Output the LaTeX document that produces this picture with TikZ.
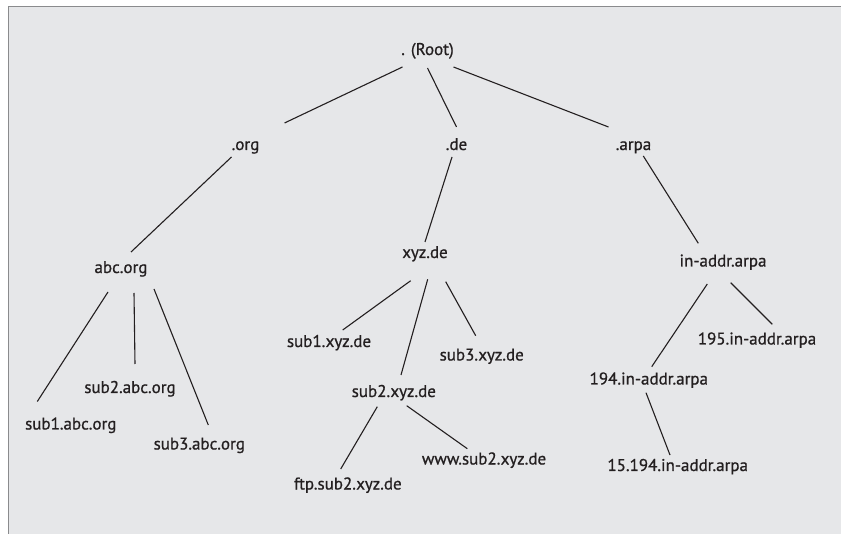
\documentclass[tikz,border=0pt]{standalone}
\usepackage{fontspec}
\setmainfont{PT Sans}[FakeBold=0.8]
\usepackage{tikz}
\definecolor{panelgray}{HTML}{E6E7E9}
\definecolor{framegray}{HTML}{8A8B8D}
\definecolor{inkblack}{HTML}{231F20}
\tikzset{
	dnsname/.style={anchor=base, inner sep=0pt, text=inkblack, font=\fontsize{17}{20}\selectfont},
	branch/.style={draw=inkblack, line width=1.1pt},
}

\begin{document}
\begin{tikzpicture}[x=1pt, y=-1pt]
			\useasboundingbox (0,0) rectangle (841,534);
			\fill[panelgray] (8,7) rectangle (850,545);
			\draw[framegray, line width=1pt] (8,545) -- (8,7) -- (850,7);
			% top levels
			\node[dnsname] (root) at (427.5,55) {. (Root)};
			\node[dnsname] (org) at (245.5,150) {.org};
			\node[dnsname] (de) at (456.5,150) {.de};
			\node[dnsname] (arpa) at (633.5,150) {.arpa};
			% .org
			\node[dnsname] (abc) at (121,273) {abc.org};
			\node[dnsname] (sub1abc) at (70.8,429.5) {sub1.abc.org};
			\node[dnsname] (sub2abc) at (130,393) {sub2.abc.org};
			\node[dnsname] (sub3abc) at (199.3,449.5) {sub3.abc.org};
			% .de
			\node[dnsname] (xyz) at (425,258) {xyz.de};
			\node[dnsname] (sub1xyz) at (329,347) {sub1.xyz.de};
			\node[dnsname] (sub2xyz) at (393.8,397) {sub2.xyz.de};
			\node[dnsname] (sub3xyz) at (481.7,360.5) {sub3.xyz.de};
			\node[dnsname] (ftp) at (347.8,489.5) {ftp.sub2.xyz.de};
			\node[dnsname] (www) at (484,464.5) {www.sub2.xyz.de};
			% .arpa
			\node[dnsname] (inaddr) at (723,266.5) {in-addr.arpa};
			\node[dnsname] (rev194) at (648.8,384.5) {194.in-addr.arpa};
			\node[dnsname] (rev195) at (757,344.5) {195.in-addr.arpa};
			\node[dnsname] (rev15) at (677.7,471) {15.194.in-addr.arpa};
			% branches
			\draw[branch] ([shift={(-25,12)}]root.base) -- ([shift={(39,-27)}]org.base);
			\draw[branch] ([shift={(0,13)}]root.base) -- ([shift={(0,-23)}]de.base);
			\draw[branch] ([shift={(26,12)}]root.base) -- ([shift={(-25,-23)}]arpa.base);
			\draw[branch] ([shift={(-14,7)}]org.base) -- ([shift={(10,-21)}]abc.base);
			\draw[branch] ([shift={(-13,19)}]abc.base) -- ([shift={(-33.5,-28)}]sub1abc.base);
			\draw[branch] ([shift={(13,20)}]abc.base) -- ([shift={(5,-29)}]sub2abc.base);
			\draw[branch] ([shift={(33,16)}]abc.base) -- ([shift={(9,-24.5)}]sub3abc.base);
			\draw[branch] ([shift={(-4.5,7)}]de.base) -- ([shift={(0,-16)}]xyz.base);
			\draw[branch] ([shift={(-14.3,22.7)}]xyz.base) -- ([shift={(13.7,-17)}]sub1xyz.base);
			\draw[branch] ([shift={(2.7,21.3)}]xyz.base) -- ([shift={(7.2,-22)}]sub2xyz.base);
			\draw[branch] ([shift={(20.7,23.7)}]xyz.base) -- ([shift={(-6,-24.8)}]sub3xyz.base);
			\draw[branch] ([shift={(-16.5,9.7)}]sub2xyz.base) -- ([shift={(-7.1,-20.5)}]ftp.base);
			\draw[branch] ([shift={(12.9,8.7)}]sub2xyz.base) -- ([shift={(-16.7,-15.8)}]www.base);
			\draw[branch] ([shift={(9.8,6)}]arpa.base) -- ([shift={(-24.7,-23.2)}]inaddr.base);
			\draw[branch] ([shift={(-15.7,17.5)}]inaddr.base) -- ([shift={(2.9,-17.8)}]rev194.base);
			\draw[branch] ([shift={(7.7,16.2)}]inaddr.base) -- ([shift={(15.3,-20.2)}]rev195.base);
			\draw[branch] ([shift={(-2.8,8.2)}]rev194.base) -- ([shift={(-7.7,-16)}]rev15.base);
		\end{tikzpicture}
\end{document}
